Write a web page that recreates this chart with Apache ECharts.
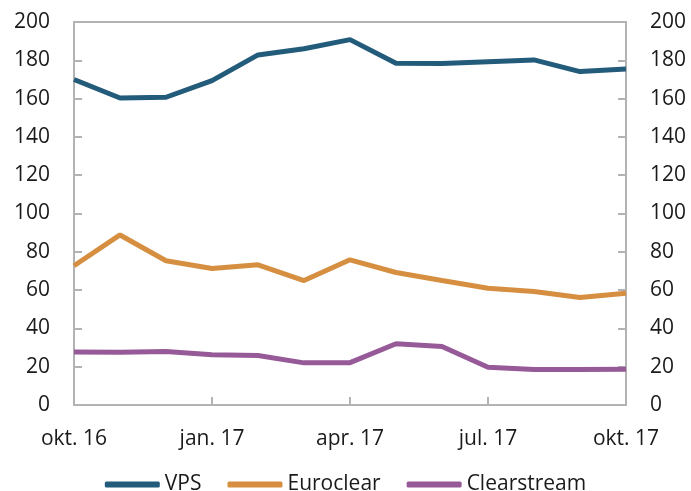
<!DOCTYPE html>
<html>
<head>
<meta charset="utf-8">
<script src="https://cdn.jsdelivr.net/npm/echarts@6/dist/echarts.min.js"></script>
<style>
  html, body { margin: 0; padding: 0; background: #fff; }
  #chart { width: 691px; height: 491px; }
</style>
</head>
<body>
<div id="chart"></div>
<script>
const months = ['okt. 16', 'nov. 16', 'des. 16', 'jan. 17', 'feb. 17', 'mar. 17', 'apr. 17',
  'mai. 17', 'jun. 17', 'jul. 17', 'aug. 17', 'sep. 17', 'okt. 17']
const vps = [170, 160.3, 160.7, 169.4, 182.8, 186, 190.8, 178.5, 178.3, 179.3, 180.2, 174.1, 175.5]
const euroclear = [72.7, 88.8, 75.3, 71.3, 73.2, 65, 75.8, 69.2, 65, 61, 59.3, 56.1, 58.4]
const clearstream = [27.7, 27.5, 27.9, 26.3, 25.8, 22, 22.1, 32, 30.5, 19.7, 18.5, 18.6, 18.7]

const font = "'Open Sans', 'Noto Sans', sans-serif"
const axisGray = '#b3b3b3'
const fontSize = 21

const chart = echarts.init(document.getElementById('chart'))

function yAxis(position) {
  return {
    type: 'value',
    position,
    min: 0,
    max: 200,
    interval: 20,
    axisLine: { show: true, lineStyle: { color: axisGray, width: 2 } },
    axisTick: { show: true, inside: true, length: 8, lineStyle: { color: axisGray, width: 2 } },
    splitLine: { show: false },
    axisLabel: { color: '#1a1a1a', fontSize, fontFamily: font, margin: 24 }
  }
}

function line(name, data, color) {
  return {
    name,
    type: 'line',
    data,
    symbol: 'none',
    lineStyle: { color, width: 5 },
    itemStyle: { color },
    animation: false
  }
}

chart.setOption({
  grid: {
    left: 74, right: 65, top: 22, bottom: 86,
    show: true, borderColor: axisGray, borderWidth: 2
  },
  legend: {
    top: 469,
    left: 'center',
    icon: 'roundRect',
    itemWidth: 55,
    itemHeight: 6,
    itemGap: 26,
    textStyle: { color: '#1a1a1a', fontSize, fontFamily: font },
    data: ['VPS', 'Euroclear', 'Clearstream']
  },
  xAxis: {
    type: 'category',
    data: months,
    boundaryGap: false,
    axisLine: { lineStyle: { color: axisGray, width: 2 } },
    axisTick: { show: true, inside: true, length: 8, interval: 2, lineStyle: { color: axisGray, width: 2 } },
    axisLabel: { interval: 2, color: '#1a1a1a', fontSize, fontFamily: font, margin: 24 }
  },
  yAxis: [yAxis('left'), yAxis('right')],
  series: [
    line('VPS', vps, '#235b7b'),
    line('Euroclear', euroclear, '#d68f40'),
    line('Clearstream', clearstream, '#975a98')
  ]
})
</script>
</body>
</html>
